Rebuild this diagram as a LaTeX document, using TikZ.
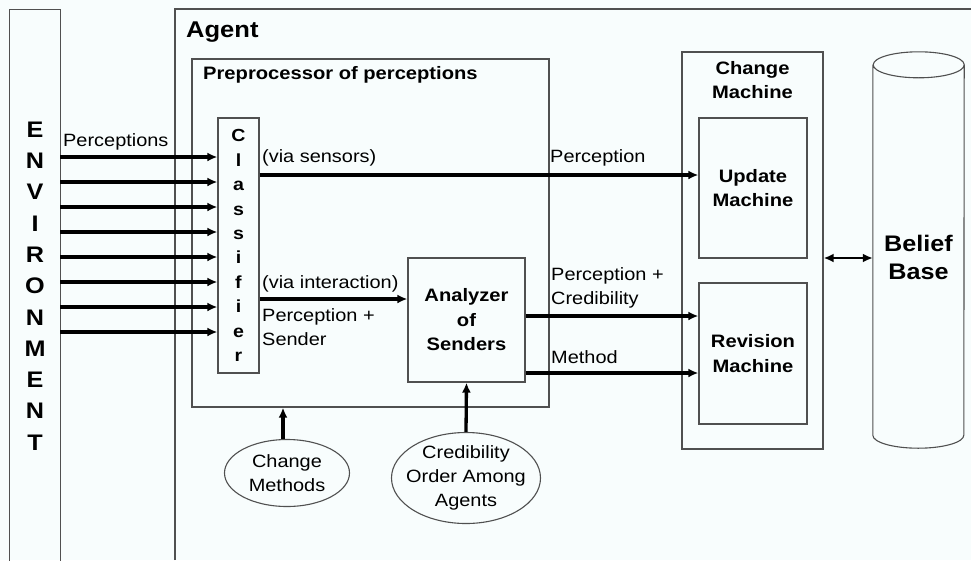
\documentclass[tikz,border=0pt]{standalone}
\usepackage{fontspec}
\setmainfont[FakeStretch=1.12]{Liberation Sans}
\usepackage{xcolor}
\usepackage{tikz}
\usetikzlibrary{positioning,shapes.geometric,arrows.meta,calc}
\definecolor{paper}{RGB}{248,253,253}
\definecolor{rimgray}{RGB}{80,80,80}

\begin{document}
\begin{tikzpicture}[
  x=1pt, y=-1pt,
  >={Latex[length=10pt,width=9pt]},
  font=\fontsize{17.8}{24}\selectfont,
  every node/.style={align=center, inner sep=0pt},
  rim/.style={draw=rimgray, line width=1.3pt},
  box/.style={rectangle, rim},
  bubble/.style={ellipse, draw=rimgray, line width=1.1pt, inner xsep=-7.5pt, inner ysep=-1.5pt},
  heavy/.style={->, line width=3.3pt},
  boldtext/.style={font=\bfseries\fontsize{18}{24.5}\selectfont},
  lbl/.style={anchor=west, align=left},
]
\fill[paper] (0,0) rectangle (971,560);
\useasboundingbox (0,0) rectangle (971,560);

\node[minimum width=50pt, minimum height=552pt, font=\bfseries\fontsize{22.5}{31.3}\selectfont] (env) at (35,286) {E\\N\\V\\I\\R\\O\\N\\M\\E\\N\\T};
\draw[rim] (env.south west) -- (env.north west) -- (env.north east) -- (env.south east);

\draw[rim] (175,560) -- (175,9) -- (971,9);
\node[anchor=west, font=\bfseries\fontsize{22.8}{26}\selectfont] (agentlbl) at (186,32) {Agent};

\node[box, minimum width=357pt, minimum height=348pt] (pre) at (370.5,233) {};
\node[anchor=west, boldtext] (pretitle) at (203,75) {Preprocessor of perceptions};
\node[box, minimum width=41pt, minimum height=255pt, font=\bfseries\fontsize{17.5}{24.4}\selectfont] (cls) at (238.5,245.5) {C\\l\\a\\s\\s\\i\\f\\i\\e\\r};
\node[box, minimum width=117pt, minimum height=124pt, boldtext] (ana) at (466.5,320) {Analyzer\\of\\Senders};

\node[box, minimum width=141pt, minimum height=397pt] (chg) at (752.5,250.5) {};
\node[boldtext] (chgtitle) at (752.5,80) {Change\\Machine};
\node[box, minimum width=108pt, minimum height=140pt, boldtext] (upd) at (753,188) {Update\\Machine};
\node[box, minimum width=108pt, minimum height=141pt, boldtext] (rev) at (753,353.5) {Revision\\Machine};

\node[minimum width=91pt, minimum height=396pt] (bb) at (918.5,250) {};
\draw[draw=rimgray, line width=1.1pt] ([yshift=-13pt]bb.north west) -- ([yshift=13pt]bb.south west)
  arc[start angle=180, end angle=360, x radius=45.5pt, y radius=13pt] -- ([yshift=-13pt]bb.north east)
  arc[start angle=0, end angle=360, x radius=45.5pt, y radius=13pt];
\node[font=\bfseries\fontsize{22.5}{28}\selectfont] (bbtext) at ([yshift=-7pt]bb.center) {Belief\\Base};

\node[bubble, minimum width=125pt, minimum height=67pt] (cm) at (287,473) {Change\\Methods};
\node[bubble, minimum width=149pt, minimum height=91pt] (cred) at (466,478) {Credibility\\Order Among\\Agents};

\node[lbl] (percs) at (63,142) {Perceptions};
\node[lbl] (sens) at (262,158) {(via sensors)};
\node[lbl] (inter) at (262,284) {(via interaction)};
\node[lbl] (psend) at (262,327) {Perception +\\Sender};
\node[lbl] (perc) at (550,158) {Perception};
\node[lbl] (pcred) at (551,287.5) {Perception +\\Credibility};
\node[lbl] (meth) at (551,357) {Method};

\foreach \y in {157,182,...,332}
  \draw[heavy] (env.east |- 0,\y) -- (cls.west |- 0,\y);
\draw[heavy] (cls.east |- 0,175) -- (upd.west |- 0,175);
\draw[heavy] (cls.east |- 0,299) -- (ana.west |- 0,299);
\draw[heavy] (ana.east |- 0,316) -- (rev.west |- 0,316);
\draw[heavy] (ana.east |- 0,373) -- (rev.west |- 0,373);
\draw[<->, line width=2.4pt] (chg.east |- 0,258) -- (bb.west |- 0,258);
\draw[heavy] (cm.north -| 283,0) -- (pre.south -| 283,0);
\draw[heavy] (cred.north) -- (ana.south);
\end{tikzpicture}
\end{document}
